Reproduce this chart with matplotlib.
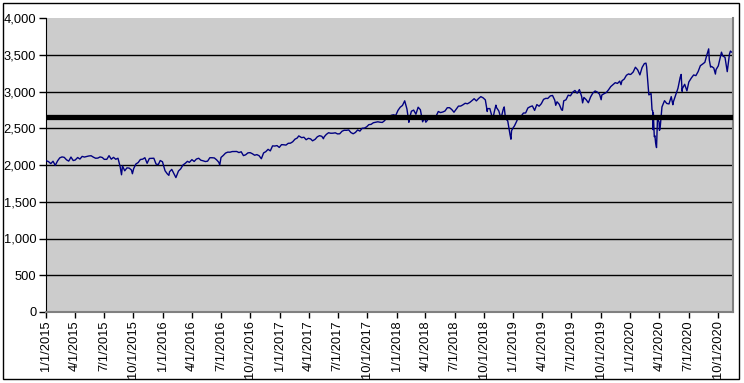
import matplotlib
matplotlib.use("Agg")
import matplotlib.pyplot as plt
from matplotlib.patches import Rectangle
from matplotlib.ticker import FuncFormatter
import pandas as pd

# S&P 500 closes, roughly weekly (approximate)
dates = [
    # 2015
    "2015-01-02", "2015-01-09", "2015-01-16", "2015-01-23", "2015-01-30", "2015-02-06", "2015-02-13",
    "2015-02-20", "2015-02-27", "2015-03-06", "2015-03-13", "2015-03-20", "2015-03-27", "2015-04-02",
    "2015-04-10", "2015-04-17", "2015-04-24", "2015-05-01", "2015-05-08", "2015-05-15", "2015-05-22",
    "2015-05-29", "2015-06-05", "2015-06-12", "2015-06-19", "2015-06-26", "2015-07-02", "2015-07-10",
    "2015-07-17", "2015-07-24", "2015-07-31", "2015-08-07", "2015-08-14", "2015-08-21", "2015-08-25",
    "2015-08-28", "2015-09-04", "2015-09-11", "2015-09-18", "2015-09-25", "2015-09-28", "2015-10-02",
    "2015-10-09", "2015-10-16", "2015-10-23", "2015-10-30", "2015-11-06", "2015-11-13", "2015-11-20",
    "2015-11-27", "2015-12-04", "2015-12-11", "2015-12-18", "2015-12-24", "2015-12-31",
    # 2016
    "2016-01-08", "2016-01-15", "2016-01-20", "2016-01-22", "2016-01-29", "2016-02-05", "2016-02-11",
    "2016-02-19", "2016-02-26", "2016-03-04", "2016-03-11", "2016-03-18", "2016-03-24", "2016-04-01",
    "2016-04-08", "2016-04-15", "2016-04-22", "2016-04-29", "2016-05-06", "2016-05-13", "2016-05-20",
    "2016-05-27", "2016-06-03", "2016-06-10", "2016-06-17", "2016-06-24", "2016-06-27", "2016-07-01",
    "2016-07-08", "2016-07-15", "2016-07-22", "2016-07-29", "2016-08-05", "2016-08-12", "2016-08-19",
    "2016-08-26", "2016-09-02", "2016-09-09", "2016-09-16", "2016-09-23", "2016-09-30", "2016-10-07",
    "2016-10-14", "2016-10-21", "2016-10-28", "2016-11-04", "2016-11-11", "2016-11-18", "2016-11-25",
    "2016-12-02", "2016-12-09", "2016-12-16", "2016-12-23", "2016-12-30",
    # 2017
    "2017-01-06", "2017-01-13", "2017-01-20", "2017-01-27", "2017-02-03", "2017-02-10", "2017-02-17",
    "2017-02-24", "2017-03-01", "2017-03-10", "2017-03-17", "2017-03-24", "2017-03-31", "2017-04-07",
    "2017-04-13", "2017-04-21", "2017-04-28", "2017-05-05", "2017-05-12", "2017-05-17", "2017-05-19",
    "2017-05-26", "2017-06-02", "2017-06-09", "2017-06-16", "2017-06-23", "2017-06-30", "2017-07-07",
    "2017-07-14", "2017-07-21", "2017-07-28", "2017-08-04", "2017-08-11", "2017-08-18", "2017-08-25",
    "2017-09-01", "2017-09-08", "2017-09-15", "2017-09-22", "2017-09-29", "2017-10-06", "2017-10-13",
    "2017-10-20", "2017-10-27", "2017-11-03", "2017-11-10", "2017-11-17", "2017-11-24", "2017-12-01",
    "2017-12-08", "2017-12-15", "2017-12-22", "2017-12-29",
    # 2018
    "2018-01-05", "2018-01-12", "2018-01-19", "2018-01-26", "2018-02-02", "2018-02-08", "2018-02-09",
    "2018-02-16", "2018-02-23", "2018-03-02", "2018-03-09", "2018-03-16", "2018-03-23", "2018-03-29",
    "2018-04-02", "2018-04-06", "2018-04-13", "2018-04-20", "2018-04-27", "2018-05-04", "2018-05-11",
    "2018-05-18", "2018-05-25", "2018-06-01", "2018-06-08", "2018-06-15", "2018-06-22", "2018-06-29",
    "2018-07-06", "2018-07-13", "2018-07-20", "2018-07-27", "2018-08-03", "2018-08-10", "2018-08-17",
    "2018-08-24", "2018-08-31", "2018-09-07", "2018-09-14", "2018-09-21", "2018-09-28", "2018-10-05",
    "2018-10-11", "2018-10-12", "2018-10-19", "2018-10-26", "2018-10-29", "2018-11-02", "2018-11-07",
    "2018-11-09", "2018-11-16", "2018-11-23", "2018-11-30", "2018-12-03", "2018-12-07", "2018-12-14",
    "2018-12-21", "2018-12-24", "2018-12-26", "2018-12-31",
    # 2019
    "2019-01-04", "2019-01-11", "2019-01-18", "2019-01-25", "2019-02-01", "2019-02-08", "2019-02-15",
    "2019-02-22", "2019-03-01", "2019-03-08", "2019-03-15", "2019-03-22", "2019-03-29", "2019-04-05",
    "2019-04-12", "2019-04-18", "2019-04-26", "2019-05-03", "2019-05-10", "2019-05-13", "2019-05-17",
    "2019-05-24", "2019-05-31", "2019-06-03", "2019-06-07", "2019-06-14", "2019-06-21", "2019-06-28",
    "2019-07-05", "2019-07-12", "2019-07-19", "2019-07-26", "2019-08-02", "2019-08-05", "2019-08-09",
    "2019-08-16", "2019-08-23", "2019-08-30", "2019-09-06", "2019-09-13", "2019-09-20", "2019-09-27",
    "2019-10-02", "2019-10-04", "2019-10-11", "2019-10-18", "2019-10-25", "2019-11-01", "2019-11-08",
    "2019-11-15", "2019-11-22", "2019-11-29", "2019-12-03", "2019-12-06", "2019-12-13", "2019-12-20",
    "2019-12-27", "2019-12-31",
    # 2020
    "2020-01-03", "2020-01-10", "2020-01-17", "2020-01-24", "2020-01-31", "2020-02-07", "2020-02-14",
    "2020-02-19", "2020-02-21", "2020-02-28", "2020-03-06", "2020-03-09", "2020-03-11", "2020-03-12",
    "2020-03-13", "2020-03-16", "2020-03-18", "2020-03-20", "2020-03-23", "2020-03-26", "2020-03-31",
    "2020-04-01", "2020-04-03", "2020-04-09", "2020-04-17", "2020-04-24", "2020-05-01", "2020-05-08",
    "2020-05-13", "2020-05-15", "2020-05-22", "2020-05-29", "2020-06-05", "2020-06-08", "2020-06-11",
    "2020-06-12", "2020-06-19", "2020-06-26", "2020-07-02", "2020-07-10", "2020-07-17", "2020-07-24",
    "2020-07-31", "2020-08-07", "2020-08-14", "2020-08-21", "2020-08-28", "2020-09-02", "2020-09-04",
    "2020-09-08", "2020-09-11", "2020-09-18", "2020-09-23", "2020-09-25", "2020-10-02", "2020-10-09",
    "2020-10-12", "2020-10-16", "2020-10-23", "2020-10-30", "2020-11-04", "2020-11-06", "2020-11-09",
    "2020-11-12",
]
closes = [
    # 2015
    2058, 2045, 2019, 2051, 1995, 2055, 2097,
    2110, 2104, 2071, 2053, 2108, 2061, 2067,
    2102, 2081, 2117, 2108, 2116, 2123, 2126,
    2107, 2092, 2094, 2110, 2102, 2077, 2077,
    2127, 2079, 2104, 2078, 2092, 1971, 1867,
    1989, 1921, 1961, 1958, 1932, 1881, 1951,
    2014, 2033, 2075, 2079, 2099, 2023, 2089,
    2090, 2092, 2012, 2006, 2061, 2044,
    # 2016
    1922, 1880, 1859, 1907, 1940, 1880, 1829,
    1918, 1948, 2000, 2022, 2050, 2036, 2073,
    2048, 2081, 2092, 2065, 2057, 2047, 2052,
    2099, 2099, 2096, 2071, 2037, 2001, 2103,
    2130, 2162, 2175, 2174, 2183, 2184, 2184,
    2169, 2180, 2128, 2139, 2165, 2168, 2153,
    2133, 2141, 2126, 2085, 2164, 2182, 2213,
    2192, 2260, 2258, 2264, 2239,
    # 2017
    2277, 2275, 2271, 2295, 2297, 2316, 2351,
    2367, 2396, 2372, 2378, 2344, 2363, 2355,
    2329, 2349, 2384, 2399, 2390, 2357, 2381,
    2416, 2439, 2432, 2433, 2438, 2423, 2425,
    2459, 2473, 2472, 2477, 2441, 2425, 2443,
    2477, 2461, 2500, 2502, 2519, 2549, 2553,
    2575, 2581, 2588, 2582, 2579, 2603, 2642,
    2652, 2676, 2683, 2674,
    # 2018
    2743, 2786, 2810, 2873, 2762, 2581, 2620,
    2732, 2747, 2691, 2786, 2752, 2588, 2641,
    2582, 2604, 2656, 2670, 2670, 2663, 2728,
    2713, 2721, 2735, 2779, 2780, 2755, 2718,
    2760, 2801, 2802, 2819, 2840, 2833, 2850,
    2875, 2902, 2872, 2905, 2930, 2914, 2886,
    2728, 2767, 2768, 2658, 2641, 2723, 2814,
    2781, 2736, 2633, 2760, 2790, 2633, 2600,
    2417, 2351, 2468, 2507,
    # 2019
    2532, 2596, 2671, 2665, 2707, 2708, 2776,
    2793, 2804, 2743, 2822, 2800, 2834, 2893,
    2907, 2905, 2940, 2946, 2881, 2812, 2860,
    2826, 2752, 2744, 2873, 2887, 2950, 2942,
    2990, 3014, 2977, 3026, 2932, 2845, 2919,
    2889, 2847, 2926, 2979, 3007, 2992, 2962,
    2888, 2952, 2970, 2986, 3023, 3067, 3093,
    3120, 3110, 3141, 3093, 3146, 3169, 3221,
    3240, 3231,
    # 2020
    3235, 3265, 3330, 3295, 3226, 3328, 3380,
    3386, 3338, 2954, 2972, 2747, 2741, 2481,
    2711, 2386, 2398, 2305, 2237, 2630, 2585,
    2471, 2489, 2790, 2875, 2837, 2831, 2930,
    2820, 2864, 2955, 3044, 3194, 3232, 3002,
    3041, 3098, 3009, 3130, 3185, 3225, 3216,
    3271, 3351, 3373, 3397, 3508, 3580, 3427,
    3332, 3341, 3319, 3237, 3298, 3348, 3477,
    3535, 3484, 3465, 3270, 3444, 3510, 3550,
    3537,
]
ref_level = 2655
y_ticks = [0, 500, 1000, 1500, 2000, 2500, 3000, 3500, 4000]

x = pd.to_datetime(dates)
tick_dates = pd.date_range("2015-01-01", "2020-10-01", freq="QS")

W, H = 744, 383
fig = plt.figure(figsize=(W / 100, H / 100), dpi=100)
plt.rcParams["font.family"] = ["Liberation Sans", "DejaVu Sans"]

# outer chart border
fig.patches.append(Rectangle((2.5 / W, 4.5 / H), 736 / W, 376 / H, transform=fig.transFigure,
                             fill=False, edgecolor="black", linewidth=1.0))

ax = fig.add_axes([46 / W, (H - 312) / H, 687 / W, 294 / H])
ax.set_facecolor("#cccccc")

for v in y_ticks[1:-1]:
    ax.axhline(v, color="black", linewidth=1.0, zorder=1)

ax.plot(x, closes, color="#000080", linewidth=1.0, zorder=3)
ax.axhline(ref_level, color="black", linewidth=3.8, zorder=4)

ax.set_ylim(0, 4000)
ax.set_xlim(pd.Timestamp("2015-01-01"), pd.Timestamp("2020-11-17"))
ax.set_yticks(y_ticks)
ax.yaxis.set_major_formatter(FuncFormatter(lambda v, p: f"{int(v):,}"))
ax.set_xticks(tick_dates)
ax.set_xticklabels([f"{d.month}/1/{d.year}" for d in tick_dates], rotation=90)

ax.tick_params(axis="both", direction="out", length=5, width=1, colors="black", labelsize=9.3)
ax.tick_params(axis="x", length=4, pad=2)
ax.tick_params(axis="y", pad=2)

ax.spines["top"].set_visible(False)
ax.spines["left"].set_color("black")
ax.spines["right"].set_color("#808080")
ax.spines["bottom"].set_color("#808080")
ax.spines["right"].set_linewidth(1.5)
ax.spines["bottom"].set_linewidth(1.5)

fig.savefig("out.png", dpi=100)
